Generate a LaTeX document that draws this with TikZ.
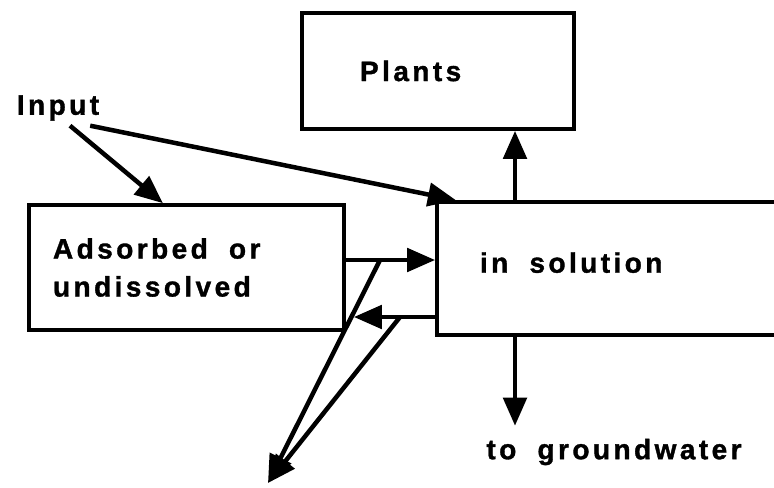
\documentclass[tikz,border=0pt]{standalone}
\usepackage{fontspec}
\setmainfont[LetterSpace=12, BoldFont={Liberation Sans Bold}, BoldFeatures={FakeBold=1.2}]{Liberation Sans}
\usetikzlibrary{arrows.meta, positioning}

\newcommand{\gap}{\hspace{0.75em}}

\begin{document}
\begin{tikzpicture}[x=0.025cm, y=-0.025cm]

  % styles
  \tikzstyle{box} = [rectangle, draw=black, line width=2.6pt, align=left, inner ysep=0pt, font=\fontsize{20}{27}\selectfont\bfseries]
  \tikzstyle{label} = [inner sep=2pt, font=\fontsize{20}{27}\selectfont\bfseries]
  \tikzstyle{arrow} = [line width=3.2pt, -{Triangle[length=0.7cm, width=0.58cm]}]

  \useasboundingbox (0,0) rectangle (774,487);

  % boxes
  \node (plants) [box, minimum height=2.9cm, minimum width=6.8cm, text width=3.9cm, inner xsep=1.45cm] at (438,71) {Plants};
  \node (adsorbed) [box, minimum height=3.125cm, minimum width=7.875cm, text width=6.675cm, inner xsep=0.6cm] at (186.5,267.5) {Adsorbed\gap or\\undissolved};
  \node (solution) [box, minimum height=3.325cm, minimum width=8.825cm, text width=6.675cm, inner xsep=1.075cm, text depth=0.3cm] at (613.5,268.5) {in\gap solution};

  % labels
  \node (input) [label] at (58,108) {Input};
  \node (gw) [label] at (614,452) {to\gap groundwater};

  % levels of the connectors
  \coordinate (up) at (0,260);
  \coordinate (dn) at (0,317);
  \coordinate (col) at (515,0);
  \coordinate (lossA) at (380,260);
  \coordinate (lossB) at (400,317);
  \coordinate (loss) at (268,483);

  % arrows
  \draw [arrow] ([xshift=0.3cm, yshift=-0.05cm]input.south) -- ([xshift=-0.59cm]adsorbed.north);
  \draw [arrow] ([xshift=-0.3cm, yshift=-0.05cm]input.south east) -- ([xshift=0.52cm]solution.north west);

  \draw [arrow] (adsorbed.east |- up) -- (solution.west |- up);
  \draw [arrow, shorten >=0.2cm] (solution.west |- dn) -- (adsorbed.east |- dn);

  \draw [arrow] (lossA) -- (loss);
  \draw [arrow] (lossB) -- (loss);

  \draw [arrow] (solution.north -| col) -- (plants.south -| col);
  \draw [arrow, shorten >=0.25cm] (solution.south -| col) -- (gw.north -| col);

\end{tikzpicture}
\end{document}
